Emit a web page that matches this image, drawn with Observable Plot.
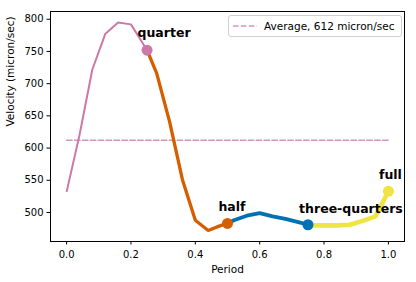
<!DOCTYPE html>
<html>
<head>
<meta charset="utf-8">
<script src="https://cdn.jsdelivr.net/npm/d3@7"></script>
<script src="https://cdn.jsdelivr.net/npm/@observablehq/plot@0.6"></script>
<style>
  html, body { margin: 0; padding: 0; background: #fff; }
  #wrap { position: relative; width: 416px; height: 282px; font-family: "DejaVu Sans", sans-serif; }
  #legend {
    position: absolute; left: 228px; top: 15px; width: 172px; height: 20px;
    border: 1px solid #d0d0d0; border-radius: 3px; background: rgba(255,255,255,0.85);
    display: flex; align-items: center; font-size: 10.5px; color: #000;
  }
  #legend svg { margin-left: 4px; margin-right: 7px; }
</style>
</head>
<body>
<div id="wrap"></div>
<script>
// ---- data ----
const period   = [0.00, 0.04, 0.08, 0.12, 0.16, 0.20, 0.24, 0.28, 0.32, 0.36, 0.40, 0.44, 0.48,
                  0.52, 0.56, 0.60, 0.64, 0.68, 0.72, 0.76, 0.80, 0.84, 0.88, 0.92, 0.96, 1.00];
const velocity = [532, 620, 722, 777, 795, 792, 760, 716, 641, 551, 488, 472, 480,
                  488, 495, 499, 494, 490, 485, 480, 480, 480, 481, 487, 494, 533];
const quarterPeriod   = [0.25, 0.5, 0.75, 1.0];
const quarterVelocity = [752, 483, 481, 533];
const quarterLabels   = ["quarter", "half", "three-quarters", "full"];
const averageVelocity = 612;
const legendLabel = "Average, 612 micron/sec";
const xTicks = [0, 0.2, 0.4, 0.6, 0.8, 1.0];
const yTicks = [500, 550, 600, 650, 700, 750, 800];

// ---- styling ----
const colors = ["#CC79A7", "#D55E00", "#0072B2", "#F0E442"];
const widths = [2, 3.3, 3.8, 4.6];
const labelOffsets = [[17, -17], [4.5, -16.3], [43, -16], [2, -16.4]];

// build segments from quarter to quarter
const segments = quarterPeriod.map((hi, s) => {
  const lo = s === 0 ? period[0] : quarterPeriod[s - 1];
  const rows = [];
  if (s === 0) rows.push({x: period[0], y: velocity[0]});
  else rows.push({x: quarterPeriod[s - 1], y: quarterVelocity[s - 1]});
  period.forEach((p, i) => { if (p > lo + 1e-9 && p < hi - 1e-9) rows.push({x: p, y: velocity[i]}); });
  rows.push({x: hi, y: quarterVelocity[s]});
  return rows;
});
const markers = quarterPeriod.map((p, i) => ({x: p, y: quarterVelocity[i], label: quarterLabels[i], i}));
const avgLine = [{x: d3.min(period), y: averageVelocity}, {x: d3.max(period), y: averageVelocity}];

const chart = Plot.plot({
  width: 416, height: 282,
  marginLeft: 50, marginRight: 12, marginTop: 11, marginBottom: 41,
  style: {fontFamily: "DejaVu Sans, sans-serif", fontSize: "10px", color: "#000", background: "transparent"},
  x: {domain: [-0.05, 1.05]},
  y: {domain: [455, 812]},
  marks: [
    Plot.axisX({ticks: xTicks, tickFormat: d3.format(".1f"), tickSize: 3.5, tickPadding: 5.5, label: null}),
    Plot.axisY({ticks: yTicks, tickSize: 3.5, tickPadding: 3.5, label: null}),
    Plot.text(["Period"], {frameAnchor: "bottom", dy: 28, fontSize: 10.5, lineAnchor: "middle"}),
    Plot.text(["Velocity (micron/sec)"], {frameAnchor: "left", dx: -40, rotate: -90, fontSize: 10.5, lineAnchor: "middle"}),
    Plot.line(avgLine, {x: "x", y: "y", stroke: colors[0], strokeOpacity: 0.8, strokeWidth: 1.5, strokeDasharray: "5.5,2.4"}),
    ...segments.map((rows, s) => Plot.line(rows, {x: "x", y: "y", stroke: colors[s], strokeWidth: widths[s], strokeLinejoin: "miter", strokeLinecap: "butt"})),
    Plot.dot(markers, {x: "x", y: "y", r: 5.5, fill: d => colors[d.i], stroke: null}),
    ...markers.map((m, i) => Plot.text([m], {x: "x", y: "y", text: "label", fontWeight: "bold", fontSize: 12.5,
      dx: labelOffsets[i][0], dy: labelOffsets[i][1], lineAnchor: "middle", fill: "#000"})),
    Plot.frame({stroke: "#000", strokeWidth: 1})
  ]
});

const wrap = document.getElementById("wrap");
wrap.appendChild(chart);

const legend = document.createElement("div");
legend.id = "legend";
legend.innerHTML = `<svg width="24" height="6"><line x1="0" y1="3" x2="24" y2="3" stroke="${colors[0]}" stroke-opacity="0.8" stroke-width="1.5" stroke-dasharray="5.5,2.4"/></svg><span></span>`;
legend.querySelector("span").textContent = legendLabel;
wrap.appendChild(legend);
</script>
</body>
</html>
